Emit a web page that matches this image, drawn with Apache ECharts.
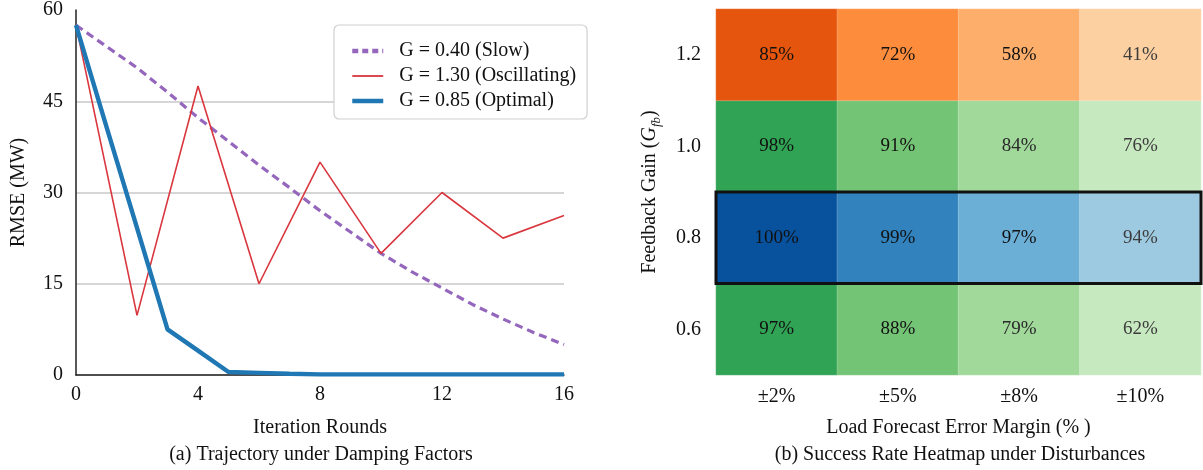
<!DOCTYPE html>
<html>
<head>
<meta charset="utf-8">
<title>Feedback gain study</title>
<script src="https://cdn.jsdelivr.net/npm/echarts@6/dist/echarts.min.js"></script>
<style>
  html, body { margin: 0; padding: 0; background: #fff; }
  #chart { width: 1203px; height: 470px; }
</style>
</head>
<body>
<div id="chart"></div>
<script>
// ---- Panel (a): RMSE trajectories ----
const rounds = [0, 1, 2, 3, 4, 5, 6, 7, 8, 9, 10, 11, 12, 13, 14, 15, 16];
const slowRmse = [57.5, 54.0, 50.5, 46.5, 42.3, 38.4, 34.5, 30.8, 27.0, 23.5, 20.0, 17.0, 14.3, 11.6, 9.2, 7.0, 5.0];
const oscRounds = [0, 2, 4, 6, 8, 10, 12, 14, 16];
const oscRmse = [57.5, 9.8, 47.5, 15.0, 35.0, 20.0, 30.0, 22.5, 26.2];
const optRmse = [57.5, 40.8, 24.2, 7.5, 4.0, 0.5, 0.35, 0.2, 0.1, 0.1, 0.1, 0.1, 0.1, 0.1, 0.1, 0.1, 0.1];
const seriesNames = ['G = 0.40 (Slow)', 'G = 1.30 (Oscillating)', 'G = 0.85 (Optimal)'];
const xTicks = { min: 0, max: 16, step: 4 };
const yTicks = { min: 0, max: 60, step: 15 };

// ---- Panel (b): success-rate heatmap ----
const margins = ['±2%', '±5%', '±8%', '±10%'];
const gains = ['0.6', '0.8', '1.0', '1.2'];          // bottom to top
const successRate = {
  '1.2': [85, 72, 58, 41],
  '1.0': [98, 91, 84, 76],
  '0.8': [100, 99, 97, 94],
  '0.6': [97, 88, 79, 62]
};
const highlightGain = '0.8';

// colour ramps used per row
const oranges = ['#e6550d', '#fd8d3c', '#fdae6b', '#fdd0a2'];
const greens  = ['#31a354', '#74c476', '#a1d99b', '#c7e9c0'];
const blues   = ['#08519c', '#3182bd', '#6baed6', '#9ecae1'];
const rowRamp = { '1.2': oranges, '1.0': greens, '0.8': blues, '0.6': greens };
const labelInk = ['#111', '#111', '#2a2a2a', '#3c3c3c'];

const FONT = "'Liberation Serif', 'Times New Roman', serif";

// line styles for the three gain settings
const styles = [
  { color: '#9467bd', width: 3.2, type: [8, 5] },
  { color: '#d9363e', width: 1.6, type: 'solid' },
  { color: '#1f77b4', width: 4.4, type: 'solid' }
];

const heatData = [];
gains.forEach((g, yi) => {
  successRate[g].forEach((v, xi) => {
    heatData.push({
      value: [xi, yi, v],
      itemStyle: { color: rowRamp[g][xi] },
      label: { color: (g === '1.2' || g === '0.8') && xi === 2 ? '#111' : labelInk[xi] }
    });
  });
});

const chart = echarts.init(document.getElementById('chart'), null, { renderer: 'canvas' });

const lineSeries = (i, data, z) => ({
  name: seriesNames[i], type: 'line', xAxisIndex: 0, yAxisIndex: 0, data,
  showSymbol: false, symbol: 'none',
  lineStyle: styles[i],
  itemStyle: { color: styles[i].color },
  z
});

chart.setOption({
  animation: false,
  backgroundColor: '#fff',
  textStyle: { fontFamily: FONT },
  grid: [
    { left: 76, right: 639, top: 9, bottom: 95 },
    { left: 716, right: 2, top: 9, bottom: 95 }
  ],
  legend: {
    data: seriesNames.map((name, i) => ({
      name,
      lineStyle: { width: i === 1 ? 1.8 : 4.5, type: i === 0 ? [6, 4] : 'solid', color: styles[i].color }
    })),
    orient: 'vertical',
    left: 334,
    top: 25,
    padding: [16, 11, 8, 16],
    itemGap: 5,
    itemWidth: 31,
    itemHeight: 14,
    itemStyle: { opacity: 0 },
    backgroundColor: '#fff',
    borderColor: '#cfcfcf',
    borderWidth: 1.2,
    borderRadius: 5,
    textStyle: { fontFamily: FONT, fontSize: 20, color: '#111', padding: [0, 0, 0, 11] }
  },
  xAxis: [
    {
      type: 'value', gridIndex: 0,
      min: xTicks.min, max: xTicks.max, interval: xTicks.step,
      name: 'Iteration Rounds', nameLocation: 'middle', nameGap: 43,
      nameTextStyle: { fontFamily: FONT, fontSize: 20, color: '#111' },
      axisLine: { show: true, onZero: false, lineStyle: { color: '#222', width: 1.5 } },
      axisTick: { show: false },
      axisLabel: { fontFamily: FONT, fontSize: 20, color: '#111', margin: 10 },
      splitLine: { show: false }
    },
    {
      type: 'category', gridIndex: 1, data: margins,
      name: 'Load Forecast Error Margin (% )', nameLocation: 'middle', nameGap: 43,
      nameTextStyle: { fontFamily: FONT, fontSize: 20, color: '#111' },
      axisLine: { show: false }, axisTick: { show: false },
      axisLabel: { fontFamily: FONT, fontSize: 20, color: '#111', margin: 12 },
      splitLine: { show: false }, splitArea: { show: false }
    }
  ],
  yAxis: [
    {
      type: 'value', gridIndex: 0,
      min: yTicks.min, max: yTicks.max, interval: yTicks.step,
      name: 'RMSE (MW)', nameLocation: 'middle', nameGap: 47,
      nameTextStyle: { fontFamily: FONT, fontSize: 20, color: '#111' },
      axisLine: { show: true, lineStyle: { color: '#222', width: 1.5 } },
      axisTick: { show: false },
      axisLabel: { fontFamily: FONT, fontSize: 20, color: '#111', margin: 13 },
      splitLine: {
        show: true,
        lineStyle: { color: ['#c8c8c8', '#c8c8c8', '#c8c8c8', '#c8c8c8', 'rgba(0,0,0,0)'], width: 1.5 }
      }
    },
    {
      type: 'category', gridIndex: 1, data: gains,
      name: 'Feedback Gain ({g|G}{s|fb})', nameLocation: 'middle', nameGap: 53,
      nameTextStyle: {
        fontFamily: FONT, fontSize: 20, color: '#111',
        rich: {
          g: { fontFamily: FONT, fontSize: 20, fontStyle: 'italic', color: '#111' },
          s: { fontFamily: FONT, fontSize: 13, fontStyle: 'italic', color: '#111', verticalAlign: 'bottom', lineHeight: 26 }
        }
      },
      axisLine: { show: false }, axisTick: { show: false },
      axisLabel: { fontFamily: FONT, fontSize: 20, color: '#111', margin: 15 },
      splitLine: { show: false }, splitArea: { show: false }
    }
  ],
  series: [
    lineSeries(0, rounds.map((r, i) => [r, slowRmse[i]]), 3),
    lineSeries(1, oscRounds.map((r, i) => [r, oscRmse[i]]), 4),
    lineSeries(2, rounds.map((r, i) => [r, optRmse[i]]), 5),
    {
      type: 'heatmap', xAxisIndex: 1, yAxisIndex: 1,
      data: heatData,
      label: {
        show: true, fontFamily: FONT, fontSize: 19,
        formatter: p => p.value[2] + '%'
      },
      itemStyle: { borderColor: 'rgba(255,255,255,0.35)', borderWidth: 0.6 },
      emphasis: { disabled: true }
    },
    {
      // outline around the highlighted gain row
      type: 'custom', xAxisIndex: 1, yAxisIndex: 1,
      data: [[0, margins.length - 1, gains.indexOf(highlightGain)]],
      encode: { x: [0, 1], y: 2 },
      clip: false,
      z: 10,
      silent: true,
      renderItem: (params, api) => {
        const a = api.coord([api.value(0), api.value(2)]);
        const b = api.coord([api.value(1), api.value(2)]);
        const size = api.size([1, 1]);
        const x0 = a[0] - size[0] / 2;
        const x1 = b[0] + size[0] / 2;
        const y0 = a[1] - size[1] / 2;
        return {
          type: 'rect',
          shape: { x: x0, y: y0, width: x1 - x0, height: size[1] },
          style: { fill: 'none', stroke: '#111', lineWidth: 3 }
        };
      }
    }
  ],
  graphic: [
    {
      type: 'text', x: 321, y: 455,
      style: { text: '(a) Trajectory under Damping Factors', font: "20px " + FONT, fill: '#111', align: 'center', verticalAlign: 'middle' }
    },
    {
      type: 'text', x: 960, y: 455,
      style: { text: '(b) Success Rate Heatmap under Disturbances', font: "20px " + FONT, fill: '#111', align: 'center', verticalAlign: 'middle' }
    }
  ]
});
</script>
</body>
</html>
